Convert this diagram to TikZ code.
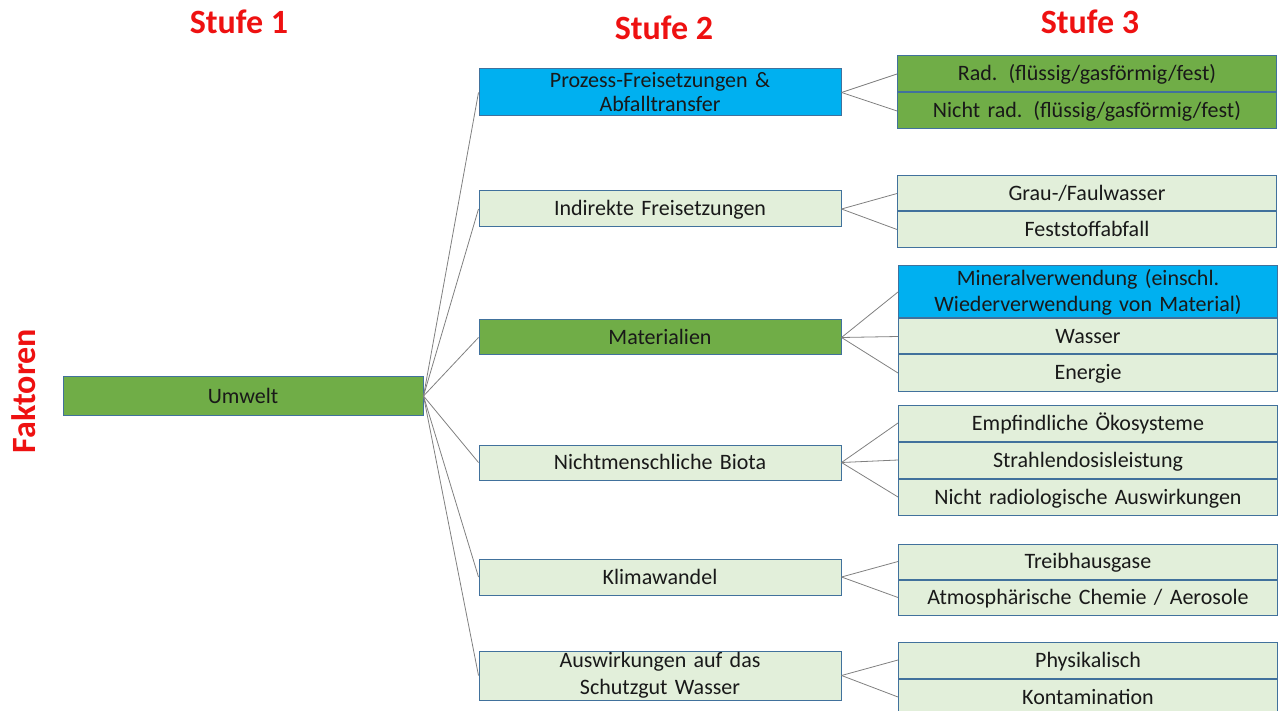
\documentclass[tikz,border=0pt]{standalone}
\usepackage{fontspec}
\setmainfont{Carlito}
\definecolor{dgreen}{HTML}{70AD47}
\definecolor{lgreen}{HTML}{E2EFDA}
\definecolor{sblue}{HTML}{00B0F0}
\definecolor{bord}{HTML}{41719C}
\definecolor{conn}{HTML}{808080}
\definecolor{ttl}{HTML}{EE1111}
\begin{document}
\begin{tikzpicture}[x=1pt,y=-1pt,
  box/.style={draw=bord, line width=1pt, inner sep=0pt, align=center,
    font=\fontsize{22}{24}\selectfont, text=black!90},
  one/.style={text height=14pt, text depth=0pt},
  lbox/.style={box, fill=lgreen},
  gbox/.style={box, fill=dgreen},
  bbox/.style={box, fill=sblue},
  s2/.style={minimum width=362pt, text width=356pt},
  s3/.style={minimum width=379pt, text width=375pt},
  title/.style={text=ttl, font=\fontsize{34}{38}\selectfont\bfseries},
  link/.style={draw=conn, line width=0.8pt}]
\useasboundingbox (0,0) rectangle (1283,711);
% titles
\node[title] (t1) at (239,22) {Stufe 1};
\node[title] (t2) at (664,28) {Stufe 2};
\node[title] (t3) at (1090,22) {Stufe 3};
\node[title, rotate=90] (fak) at (24,391) {Faktoren};
% stage 1
\node[gbox, one, minimum width=360pt, minimum height=38pt] (u) at (243,396) {Umwelt};
% stage 2
\node[bbox, s2, minimum height=47pt] (p2) at (660,92.5) {Prozess-Freisetzungen \&\\Abfalltransfer};
\node[lbox, s2, one, minimum height=36pt] (i2) at (660,209) {Indirekte Freisetzungen};
\node[gbox, s2, one, minimum height=35pt] (m2) at (660,337.5) {Materialien};
\node[lbox, s2, one, minimum height=35pt] (n2) at (660,462.5) {Nichtmenschliche Biota};
\node[lbox, s2, one, minimum height=36pt] (k2) at (660,577) {Klimawandel};
\node[lbox, s2, minimum height=49pt, font=\fontsize{22}{27}\selectfont] (a2) at (660,675.5) {\raisebox{-3pt}{Auswirkungen auf das}\\\raisebox{-3pt}{Schutzgut Wasser}};
% stage 3
\node[gbox, s3, one, minimum height=36pt] (r3) at (1087,74) {Rad. (flüssig/gasförmig/fest)};
\node[gbox, s3, one, minimum height=36pt] (nr3) at (1087,111) {Nicht rad. (flüssig/gasförmig/fest)};
\node[lbox, s3, one, minimum height=35pt] (g3) at (1087,193.5) {Grau-/Faulwasser};
\node[lbox, s3, one, minimum height=36pt] (f3) at (1087,229.5) {Feststoffabfall};
\node[bbox, s3, minimum height=52pt, font=\fontsize{22}{26}\selectfont] (mi3) at (1088,292) {Mineralverwendung (einschl.\\Wiederverwendung von Material)};
\node[lbox, s3, one, minimum height=35pt] (w3) at (1088,336.5) {Wasser};
\node[lbox, s3, one, minimum height=36pt] (e3) at (1088,373) {Energie};
\node[lbox, s3, one, minimum height=36pt] (em3) at (1088,423) {Empfindliche Ökosysteme};
\node[lbox, s3, one, minimum height=36pt] (st3) at (1088,460) {Strahlendosisleistung};
\node[lbox, s3, one, minimum height=36pt] (nra3) at (1088,497) {Nicht radiologische Auswirkungen};
\node[lbox, s3, one, minimum height=35pt] (tr3) at (1088,561.5) {Treibhausgase};
\node[lbox, s3, one, minimum height=35pt] (at3) at (1088,597.5) {Atmosphärische Chemie / Aerosole};
\node[lbox, s3, one, minimum height=36pt] (ph3) at (1088,660) {Physikalisch};
\node[lbox, s3, one, minimum height=36pt] (ko3) at (1088,697) {Kontamination};
% connectors
\foreach \b in {p2,i2,m2,n2,k2,a2} \draw[link] (u.east) -- (\b.west);
\foreach \b in {r3,nr3} \draw[link] (p2.east) -- (\b.west);
\foreach \b in {g3,f3} \draw[link] (i2.east) -- (\b.west);
\foreach \b in {mi3,w3,e3} \draw[link] (m2.east) -- (\b.west);
\foreach \b in {em3,st3,nra3} \draw[link] (n2.east) -- (\b.west);
\foreach \b in {tr3,at3} \draw[link] (k2.east) -- (\b.west);
\foreach \b in {ph3,ko3} \draw[link] (a2.east) -- (\b.west);
\end{tikzpicture}
\end{document}
